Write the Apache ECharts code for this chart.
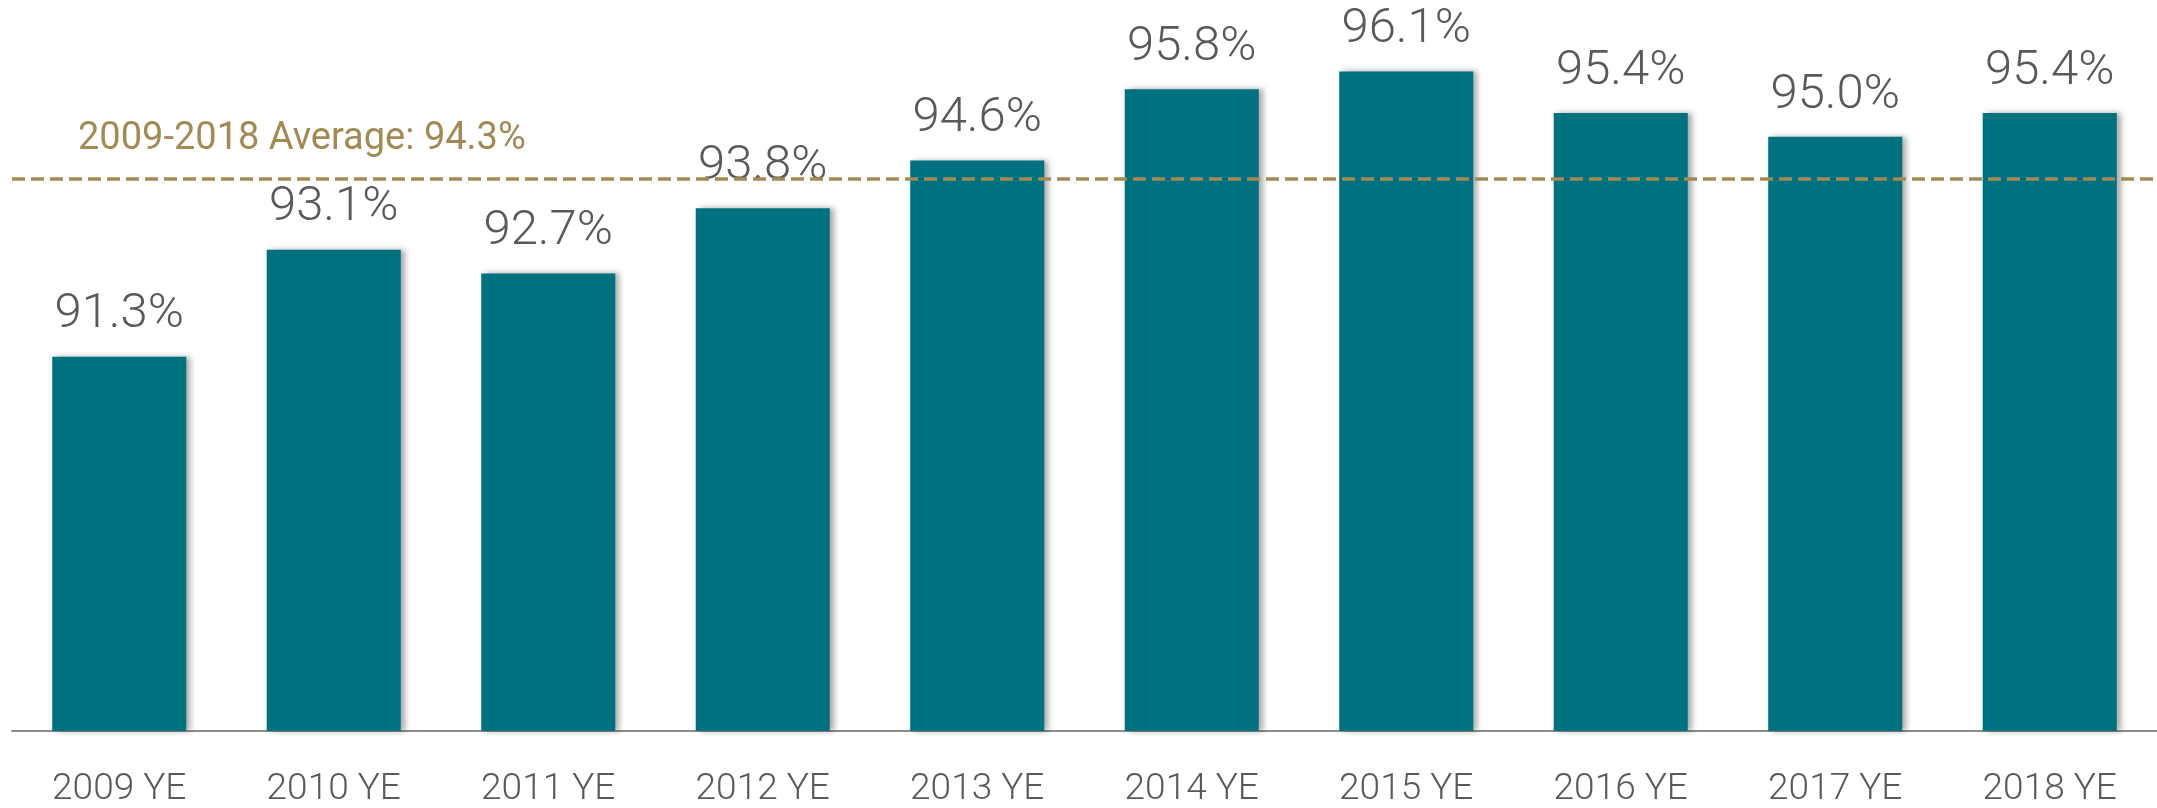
<!DOCTYPE html>
<html>
<head>
<meta charset="utf-8">
<title>Year-end average</title>
<script src="https://cdn.jsdelivr.net/npm/echarts@6/dist/echarts.min.js"></script>
<style>
    html, body {margin: 0; padding: 0; background: #fff;}
    #main {width: 2157px; height: 808px;}
</style>
</head>
<body>
<div id="main"></div>
<script>
var years = ['2009 YE', '2010 YE', '2011 YE', '2012 YE', '2013 YE', '2014 YE', '2015 YE', '2016 YE', '2017 YE', '2018 YE'];
var rates = [91.3, 93.1, 92.7, 93.8, 94.6, 95.8, 96.1, 95.4, 95.0, 95.4];
var avgValue = 94.3;
var avgText = '2009-2018 Average: 94.3%';

var chart = echarts.init(document.getElementById('main'));
var option = {
    animation: false,
    grid: {left: 12, right: 0, top: 18, bottom: 75},
    xAxis: {
        type: 'category',
        data: years,
        axisLine: {lineStyle: {color: '#8c8c8c', width: 2}},
        axisTick: {show: false},
        axisLabel: {
            color: '#595959',
            fontFamily: 'Roboto',
            fontWeight: 300,
            fontSize: 37,
            margin: 40
        }
    },
    yAxis: {
        type: 'value',
        min: 85,
        max: 97,
        show: false,
        splitLine: {show: false}
    },
    series: [{
        type: 'bar',
        data: rates,
        barWidth: '62.5%',
        itemStyle: {
            color: '#00727f',
            shadowColor: 'rgba(0,0,0,0.35)',
            shadowBlur: 6,
            shadowOffsetX: 4
        },
        label: {
            show: true,
            position: 'top',
            distance: 17,
            color: '#595959',
            fontFamily: 'Roboto',
            fontWeight: 300,
            fontSize: 49,
            formatter: function (p) {
                return p.value.toFixed(1) + '%';
            }
        },
        markLine: {
            silent: true,
            symbol: 'none',
            lineStyle: {color: '#a28a55', width: 3.5, type: [13, 6]},
            label: {
                position: 'insideStartTop',
                distance: [66, 20],
                color: '#a28a55',
                fontFamily: 'Roboto',
                fontSize: 38,
                formatter: avgText
            },
            data: [{yAxis: avgValue}]
        }
    }]
};
chart.setOption(option);
</script>
</body>
</html>
